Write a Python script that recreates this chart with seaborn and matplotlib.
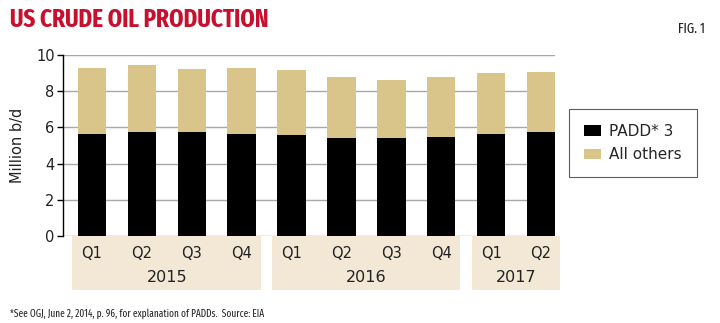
import matplotlib
matplotlib.use("Agg")
import matplotlib.pyplot as plt
import matplotlib.transforms as mtransforms
from matplotlib.patches import Rectangle, Patch
import seaborn as sns
import pandas as pd

quarters = ["Q1", "Q2", "Q3", "Q4", "Q1", "Q2", "Q3", "Q4", "Q1", "Q2"]
years = ["2015", "2016", "2017"]
year_spans = [(0, 3), (4, 7), (8, 9)]
padd3 = [5.64, 5.73, 5.73, 5.64, 5.56, 5.39, 5.40, 5.47, 5.64, 5.73]
total = [9.30, 9.46, 9.21, 9.30, 9.15, 8.80, 8.64, 8.80, 8.99, 9.06]
series_names = ["PADD* 3", "All others"]

BLACK = "#000000"
TAN = "#d9c48a"
BAND = "#f3e8d6"
RED = "#c8102e"
COND = ["Fira Sans Extra Condensed", "Fira Sans Condensed", "DejaVu Sans"]

df = pd.DataFrame({
    "pos": [f"{q}-{i}" for i, q in enumerate(quarters)],
    "padd3": padd3,
    "total": total,
})

sns.set_style("white")
plt.rcParams["font.family"] = ["DejaVu Sans"]

fig = plt.figure(figsize=(7.2, 3.23), dpi=100)
ax = fig.add_axes([63 / 720, 1 - 236 / 323, (555 - 63) / 720, (236 - 55) / 323])

sns.barplot(data=df, x="pos", y="total", color=TAN, width=0.57, ax=ax,
            saturation=1, linewidth=0, zorder=3)
sns.barplot(data=df, x="pos", y="padd3", color=BLACK, width=0.57, ax=ax,
            saturation=1, linewidth=0, zorder=4)

ax.set_xlim(-0.58, 9.28)
ax.set_ylim(0, 10)
ax.set_yticks([0, 2, 4, 6, 8, 10])
ax.yaxis.grid(True, color="#a8a8a8", linewidth=1.0, zorder=0)
ax.set_axisbelow(True)
for s in ["top", "right", "bottom"]:
    ax.spines[s].set_visible(False)
ax.spines["left"].set_color("black")
ax.spines["left"].set_linewidth(1.0)
ax.tick_params(axis="y", left=True, length=4, width=1, color="black",
               labelsize=10.5, pad=2, labelcolor="#222222")
ax.set_xticks(range(len(quarters)))
ax.set_xticklabels(quarters, fontsize=10.5, color="#222222")
ax.tick_params(axis="x", bottom=False, pad=4)
ax.set_xlabel("")
ax.set_ylabel("Million b/d", fontsize=10.5, color="#222222", labelpad=8)

# category bands
trans = mtransforms.blended_transform_factory(ax.transData, ax.transAxes)
for yr, (a, b) in zip(years, year_spans):
    x0 = a - 0.39
    x1 = b + 0.38
    ax.add_patch(Rectangle((x0, -0.30), x1 - x0, 0.298, transform=trans,
                           facecolor=BAND, edgecolor="none", clip_on=False, zorder=0))
    ax.text((a + b) / 2, -0.23, yr, transform=trans, ha="center", va="center",
            fontsize=11.5, color="#222222")

# legend
handles = [Patch(facecolor=BLACK, edgecolor="none", label=series_names[0]),
           Patch(facecolor=TAN, edgecolor="none", label=series_names[1])]
leg = fig.legend(handles=handles, loc="center left",
                 bbox_to_anchor=(569 / 720, 1 - 143 / 323),
                 frameon=True, fancybox=False, fontsize=11,
                 handlelength=1.1, handleheight=0.65, handletextpad=0.5,
                 borderpad=1.0, labelspacing=0.55, borderaxespad=0)
leg.get_frame().set_edgecolor("#333333")
leg.get_frame().set_linewidth(0.8)

# texts
fig.text(10 / 720, 1 - 20 / 323, "US CRUDE OIL PRODUCTION", ha="left", va="center",
         fontsize=18, fontweight="bold", color=RED, family=COND)
fig.text(705 / 720, 1 - 29 / 323, "FIG. 1", ha="right", va="center",
         fontsize=10, color="#222222", family=COND)
fig.text(10 / 720, 1 - 314 / 323,
         "*See OGJ, June 2, 2014, p. 96, for explanation of PADDs.  Source: EIA",
         ha="left", va="center", fontsize=7.3, color="#222222", family=COND)

fig.savefig("out.png", dpi=100)
